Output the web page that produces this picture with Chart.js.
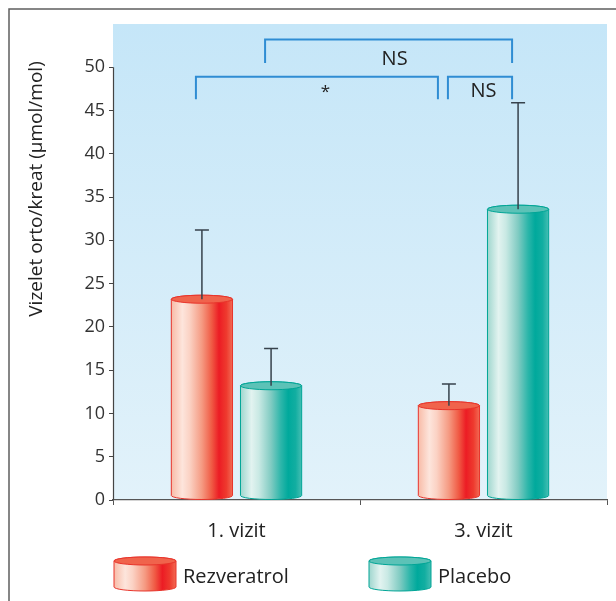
<!DOCTYPE html>
<html>
<head>
<meta charset="utf-8">
<script src="https://cdn.jsdelivr.net/npm/chart.js@4/dist/chart.umd.min.js"></script>
<style>
  html, body { margin: 0; padding: 0; background: #fff; }
  canvas { display: block; }
</style>
</head>
<body>
<canvas id="chart" width="616" height="601"></canvas>
<script>
// ---- data ----
const categories = ['1. vizit', '3. vizit'];
const seriesNames = ['Rezveratrol', 'Placebo'];
const rezveratrolMean = [23.2, 10.9];
const rezveratrolSD = [8.0, 2.5];
const placeboMean = [13.2, 33.6];
const placeboSD = [4.3, 12.3];
const yTickValues = [0, 5, 10, 15, 20, 25, 30, 35, 40, 45, 50];
const yAxisTitle = 'Vizelet orto/kreat (µmol/mol)';

// significance brackets, endpoints given as [category index, series index]
const bracketFrom = [[0, 0], [1, 0], [0, 1]];
const bracketTo = [[1, 0], [1, 1], [1, 1]];
const bracketText = ['*', 'NS', 'NS'];
const bracketLevel = [48.9, 48.9, 53.2];
const bracketLegEnd = [46.3, 46.3, 50.5];
const bracketTextBase = [46.6, 46.6, 50.3];

// ---- styles ----
const FONT = '"Open Sans", "DejaVu Sans", sans-serif';
const palettes = [
  { // red cylinders
    stops: [[0, '#f8bba7'], [0.18, '#fde5dc'], [0.3, '#fbd2c4'], [0.5, '#f59a82'], [0.66, '#f05a44'],
            [0.78, '#ec1c24'], [0.9, '#ee3a2e'], [1, '#f26a54']],
    top: '#f0634c', edge: '#e8342b'
  },
  { // teal cylinders
    stops: [[0, '#9fd6ce'], [0.18, '#e2f3f0'], [0.3, '#c9e9e4'], [0.5, '#80cbc2'], [0.66, '#2db6aa'],
            [0.78, '#00a99c'], [0.9, '#12aea1'], [1, '#45beb3']],
    top: '#5cc2b7', edge: '#00a596'
  }
];
const RY = 4;

function drawCylinder(ctx, cx, yTop, yBottom, w, pal) {
  const rx = w / 2, left = cx - rx, right = cx + rx;
  const g = ctx.createLinearGradient(left, 0, right, 0);
  pal.stops.forEach(s => g.addColorStop(s[0], s[1]));
  ctx.save();
  ctx.lineWidth = 1;
  ctx.strokeStyle = pal.edge;
  ctx.beginPath();
  ctx.moveTo(left, yTop);
  ctx.lineTo(left, yBottom - RY);
  ctx.ellipse(cx, yBottom - RY, rx, RY, 0, Math.PI, 0, true);
  ctx.lineTo(right, yTop);
  ctx.ellipse(cx, yTop, rx, RY, 0, 0, Math.PI, true);
  ctx.closePath();
  ctx.fillStyle = g;
  ctx.fill();
  ctx.stroke();
  ctx.beginPath();
  ctx.ellipse(cx, yTop, rx, RY, 0, 0, Math.PI * 2);
  ctx.fillStyle = pal.top;
  ctx.fill();
  ctx.stroke();
  ctx.restore();
}

const sdBySeries = [rezveratrolSD, placeboSD];

const cylinderPlugin = {
  id: 'cylinders',
  beforeDraw(chart) {
    const { ctx, chartArea: a } = chart;
    ctx.save();
    const g = ctx.createLinearGradient(0, a.top, 0, a.bottom);
    g.addColorStop(0, '#c5e6f8');
    g.addColorStop(1, '#e2f2fa');
    ctx.fillStyle = g;
    ctx.fillRect(a.left, a.top, a.right - a.left, a.bottom - a.top);
    ctx.restore();
  },
  afterDatasetsDraw(chart) {
    const { ctx, chartArea: a } = chart;
    const y = chart.scales.y;
    // bars
    chart.data.datasets.forEach((ds, di) => {
      chart.getDatasetMeta(di).data.forEach(el => {
        drawCylinder(ctx, el.x, el.y, el.base, el.width, palettes[di]);
      });
    });
    // error bars (upper whisker)
    ctx.save();
    ctx.strokeStyle = '#37424c';
    ctx.lineWidth = 1.5;
    chart.data.datasets.forEach((ds, di) => {
      chart.getDatasetMeta(di).data.forEach((el, i) => {
        const yTop = y.getPixelForValue(ds.data[i] + sdBySeries[di][i]);
        ctx.beginPath();
        ctx.moveTo(el.x, el.y);
        ctx.lineTo(el.x, yTop);
        ctx.moveTo(el.x - 7, yTop);
        ctx.lineTo(el.x + 7, yTop);
        ctx.stroke();
      });
    });
    ctx.restore();
    // y axis line from 0 to the last tick
    ctx.save();
    ctx.strokeStyle = '#444';
    ctx.lineWidth = 1.2;
    ctx.beginPath();
    ctx.moveTo(a.left + 0.5, y.getPixelForValue(yTickValues[0]));
    ctx.lineTo(a.left + 0.5, y.getPixelForValue(yTickValues[yTickValues.length - 1]));
    ctx.stroke();
    ctx.restore();
    // significance brackets
    const barX = p => chart.getDatasetMeta(p[1]).data[p[0]].x;
    const same = (p, q) => p[0] === q[0] && p[1] === q[1];
    ctx.save();
    ctx.strokeStyle = '#2f8dd3';
    ctx.lineWidth = 2;
    ctx.fillStyle = '#222';
    ctx.font = '20px ' + FONT;
    ctx.textAlign = 'center';
    ctx.textBaseline = 'alphabetic';
    bracketText.forEach((txt, k) => {
      let x1 = barX(bracketFrom[k]) - 6;
      let x2 = barX(bracketTo[k]) - 6;
      bracketText.forEach((t2, j) => {
        if (j === k || bracketLevel[j] !== bracketLevel[k]) return;
        if (same(bracketTo[k], bracketFrom[j])) x2 -= 5;
        if (same(bracketFrom[k], bracketTo[j])) x1 += 5;
      });
      const yl = y.getPixelForValue(bracketLevel[k]);
      const ye = y.getPixelForValue(bracketLegEnd[k]);
      ctx.beginPath();
      ctx.moveTo(x1, ye);
      ctx.lineTo(x1, yl);
      ctx.lineTo(x2, yl);
      ctx.lineTo(x2, ye);
      ctx.stroke();
      const mid = (barX(bracketFrom[k]) + barX(bracketTo[k])) / 2;
      ctx.font = (txt === '*' ? '17px ' : '20px ') + FONT;
      ctx.fillText(txt, mid, y.getPixelForValue(bracketTextBase[k]));
    });
    ctx.restore();
  },
  afterDraw(chart) {
    const { ctx, chartArea: a } = chart;
    // outer frame
    ctx.save();
    ctx.strokeStyle = '#5f5f5f';
    ctx.lineWidth = 1.5;
    ctx.beginPath();
    ctx.moveTo(9, chart.height);
    ctx.lineTo(9, 9);
    ctx.lineTo(chart.width, 9);
    ctx.stroke();
    // y axis title
    ctx.fillStyle = '#222';
    ctx.font = '19px ' + FONT;
    ctx.textAlign = 'center';
    ctx.textBaseline = 'middle';
    ctx.translate(37, 189);
    ctx.rotate(-Math.PI / 2);
    ctx.fillText(yAxisTitle, 0, 0);
    ctx.restore();
    // legend
    ctx.save();
    ctx.font = '20px ' + FONT;
    ctx.fillStyle = '#222';
    ctx.textAlign = 'left';
    ctx.textBaseline = 'alphabetic';
    const itemX = [a.left + 1, a.left + 256];
    chart.data.datasets.forEach((ds, di) => {
      const x0 = itemX[di];
      drawCylinder(ctx, x0 + 31, 561, 591, 62, palettes[di]);
      ctx.fillText(ds.label, x0 + 69, 583);
    });
    ctx.restore();
  }
};

new Chart(document.getElementById('chart'), {
  type: 'bar',
  data: {
    labels: categories,
    datasets: [
      { label: seriesNames[0], data: rezveratrolMean, backgroundColor: 'rgba(0,0,0,0)', borderWidth: 0 },
      { label: seriesNames[1], data: placeboMean, backgroundColor: 'rgba(0,0,0,0)', borderWidth: 0 }
    ]
  },
  options: {
    responsive: false,
    animation: false,
    devicePixelRatio: 1,
    categoryPercentage: 0.56,
    barPercentage: 0.885,
    layout: { padding: { left: 0, top: 24, right: 9, bottom: 0 } },
    plugins: { legend: { display: false }, tooltip: { enabled: false } },
    scales: {
      x: {
        grid: { display: true, offset: true, drawOnChartArea: false, drawTicks: true, tickLength: 5, color: '#555', lineWidth: 1 },
        border: { display: true, color: '#555', width: 1.2 },
        ticks: { color: '#222', font: { family: FONT, size: 20 }, padding: 14 },
        afterFit: s => { s.height = 101; }
      },
      y: {
        min: 0,
        max: 55,
        afterBuildTicks: s => { s.ticks = yTickValues.map(v => ({ value: v })); },
        grid: { drawOnChartArea: false, drawTicks: true, tickLength: 4, color: '#444', lineWidth: 1 },
        border: { display: false },
        ticks: { color: '#333', font: { family: FONT, size: 18 }, padding: 4 },
        afterFit: s => { s.width = 113; }
      }
    }
  },
  plugins: [cylinderPlugin]
});
</script>
</body>
</html>
